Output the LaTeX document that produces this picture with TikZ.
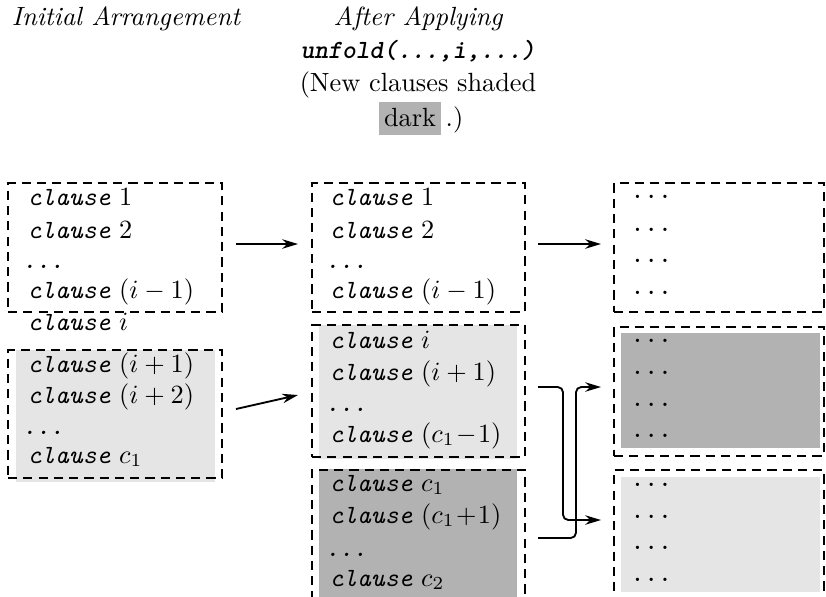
\documentclass[tikz,border=0pt]{standalone}
\usetikzlibrary{fit,arrows.meta}
\newcommand\clz{{\ttfamily\itshape clause}}
\newcommand\ttdots{{\ttfamily\itshape ...}}
\newcommand\ctdots{\raisebox{2.4pt}{\ttfamily ...}}
\begin{document}
\begin{tikzpicture}[x=0.38pt,y=-0.38pt,
  dbox/.style={draw, line width=0.8pt, dash pattern=on 3.5pt off 2.3pt, inner sep=0pt},
  lightfill/.style={fill=black!10},
  darkfill/.style={fill=black!30},
  txt/.style={anchor=base west, inner sep=0pt},
  hd/.style={anchor=base, inner sep=0pt},
  arr/.style={-{Stealth[length=6pt,width=3.6pt]}, line width=0.7pt},
  conn/.style={line width=0.7pt, rounded corners=2pt}]
\useasboundingbox (0,0) rectangle (826,596);

% headers
\node[hd] (h1) at (126,25) {\itshape Initial Arrangement};
\node[hd] (h2) at (418,25) {\itshape After Applying};
\node[hd] (h3) at (418,58) {\ttfamily\itshape\bfseries unfold(...,i,...)};
\node[hd] (h4) at (418,91) {(New clauses shaded};
\node[hd] (h5) at (421,126) {\setlength{\fboxsep}{2pt}\colorbox{black!30}{\rule[-1.5pt]{0pt}{7.2pt}dark}\,.)};

% fills
\fill[lightfill] (16,350) rectangle (215,482);
\fill[lightfill] (319,325) rectangle (517,459);
\fill[darkfill] (319,469) rectangle (517,600);
\fill[darkfill] (621,333) rectangle (820,448);
\fill[lightfill] (621,477) rectangle (820,592);

% dashed boxes
\node[dbox, fit={(8,183) (222,312)}] (L1) {};
\node[dbox, fit={(8,350) (222,478)}] (L2) {};
\node[dbox, fit={(312,183) (525,312)}] (M1) {};
\node[dbox, fit={(312,325) (525,457)}] (M2) {};
\node[dbox, fit={(312,470) (525,640)}] (M3) {};
\node[dbox, fit={(614,183) (824,312)}] (R1) {};
\node[dbox, fit={(614,327) (824,456)}] (R2) {};
\node[dbox, fit={(614,470) (824,640)}] (R3) {};

% left texts
\node[txt] (l11) at (27,205) {\clz\ $1$};
\node[txt] (l12) at (27,238) {\clz\ $2$};
\node[txt] (l13) at (22,268) {\ttdots};
\node[txt] (l14) at (27,298) {\clz\ $(i-1)$};
\node[txt] (l0) at (27,330) {\clz\ $i$};
\node[txt] (l21) at (27,372) {\clz\ $(i+1)$};
\node[txt] (l22) at (27,403) {\clz\ $(i+2)$};
\node[txt] (l23) at (22,434) {\ttdots};
\node[txt] (l24) at (27,463) {\clz\ $c_1$};

% middle texts
\node[txt] (m11) at (329,205) {\clz\ $1$};
\node[txt] (m12) at (329,238) {\clz\ $2$};
\node[txt] (m13) at (325,268) {\ttdots};
\node[txt] (m14) at (329,298) {\clz\ $(i-1)$};
\node[txt] (m21) at (329,348) {\clz\ $i$};
\node[txt] (m22) at (329,380) {\clz\ $(i+1)$};
\node[txt] (m23) at (325,411) {\ttdots};
\node[txt] (m24) at (329,442) {\clz\ $(c_1\!-\!1)$};
\node[txt] (m31) at (329,491) {\clz\ $c_1$};
\node[txt] (m32) at (329,523) {\clz\ $(c_1\!+\!1)$};
\node[txt] (m33) at (325,556) {\ttdots};
\node[txt] (m34) at (329,586) {\clz\ $c_2$};

% right texts
\foreach \y [count=\k] in {205,238,269,301}
  \node[txt] (r1\k) at (630,\y) {\ctdots};
\foreach \y [count=\k] in {349,381,413,444}
  \node[txt] (r2\k) at (630,\y) {\ctdots};
\foreach \y [count=\k] in {493,525,556,588}
  \node[txt] (r3\k) at (630,\y) {\ctdots};

% connector end points
\coordinate (a1s) at (236,244);
\coordinate (a1e) at (298,244);
\coordinate (a2s) at (236,409);
\coordinate (a2e) at (298,395);
\coordinate (a3s) at (538,244);
\coordinate (a3e) at (601,244);
\coordinate (a4s) at (538,387);
\coordinate (a4e) at (601,520);
\coordinate (a5s) at (538,538);
\coordinate (a5e) at (601,387);

\draw[arr] (a1s) -- (a1e);
\draw[arr] (a2s) -- (a2e);
\draw[arr] (a3s) -- (a3e);
\draw[arr, conn] (a4s) -- (563,387) -- (563,520) -- (a4e);
\draw[arr, conn] (a5s) -- (576,538) -- (576,387) -- (a5e);
\end{tikzpicture}
\end{document}
